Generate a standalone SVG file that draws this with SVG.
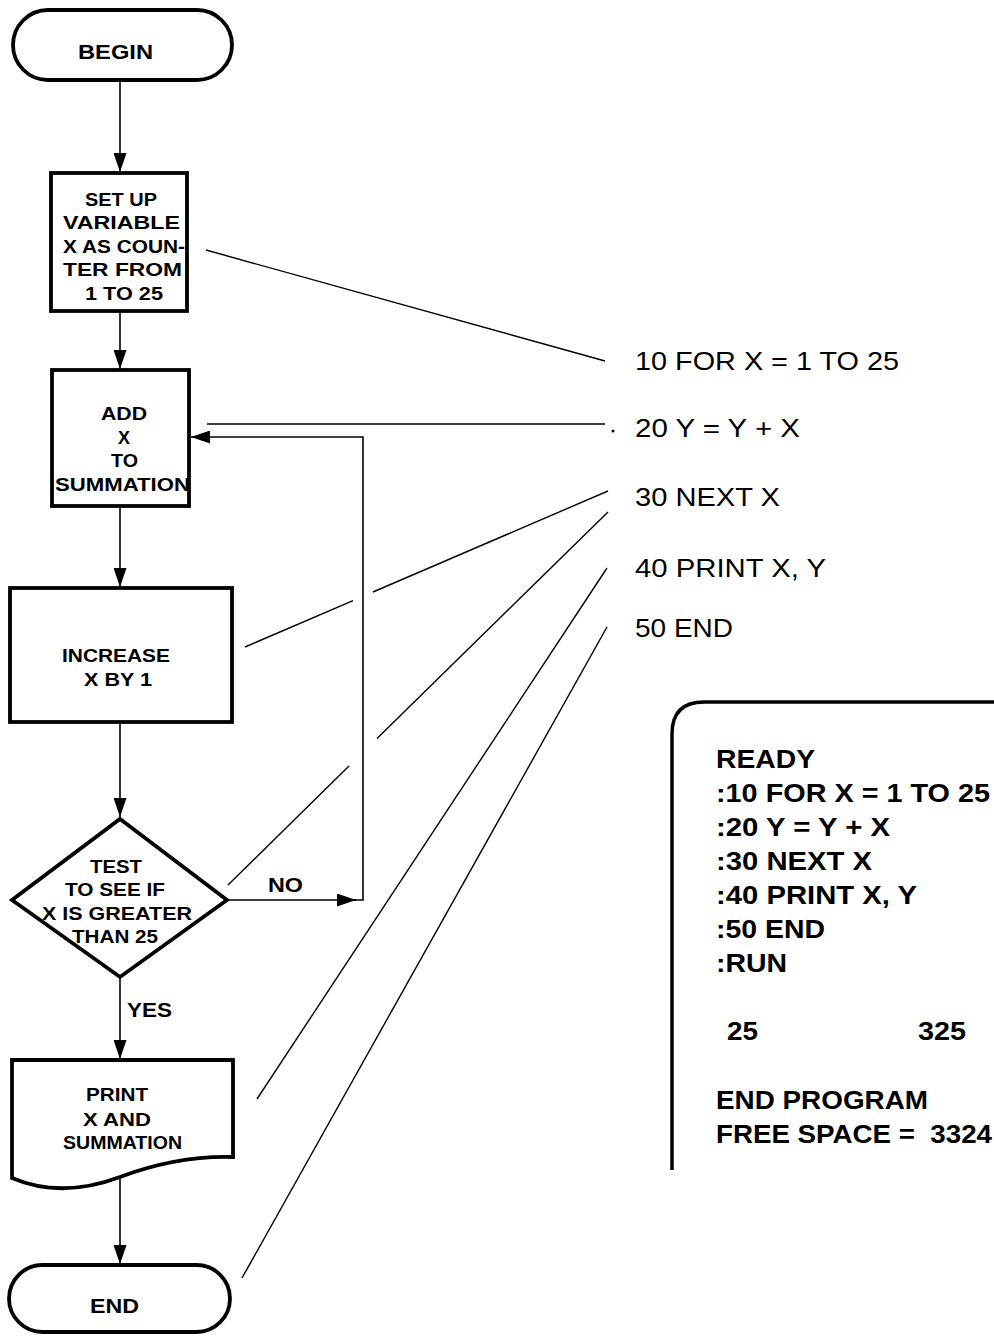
<svg xmlns="http://www.w3.org/2000/svg" width="994" height="1336" viewBox="0 0 994 1336">
  <style>
    .shape { fill: #fff; stroke: #000; stroke-width: 3.8; stroke-linejoin: miter; }
    .flow { fill: none; stroke: #000; stroke-width: 1.6; }
    .lead { fill: none; stroke: #000; stroke-width: 1.4; }
    .lbl { font-family: "Liberation Sans", Arial, sans-serif; font-weight: bold; font-size: 18px; fill: #000; text-anchor: middle; }
    .term { font-size: 21px; }
    .edge { font-family: "Liberation Sans", Arial, sans-serif; font-weight: bold; font-size: 20px; fill: #000; }
    .code { font-family: "Liberation Sans", Arial, sans-serif; font-size: 26px; fill: #000; }
    .scr { font-family: "Liberation Sans", Arial, sans-serif; font-weight: bold; font-size: 26px; fill: #000; }
  </style>
  <defs>
    <marker id="arrow" viewBox="0 0 19 13" refX="19" refY="6.5" markerWidth="19" markerHeight="13" markerUnits="userSpaceOnUse" orient="auto">
      <path d="M0,0 L19,6.5 L0,13 z" fill="#000"/>
    </marker>
  </defs>

  <!-- flow connectors -->
  <g id="connectors">
    <line class="flow" x1="120" y1="80" x2="120" y2="172" marker-end="url(#arrow)"/>
    <line class="flow" x1="120" y1="311" x2="120" y2="369" marker-end="url(#arrow)"/>
    <line class="flow" x1="120" y1="506" x2="120" y2="587" marker-end="url(#arrow)"/>
    <line class="flow" x1="120" y1="722" x2="120" y2="817" marker-end="url(#arrow)"/>
    <line class="flow" x1="120" y1="977" x2="120" y2="1059" marker-end="url(#arrow)"/>
    <line class="flow" x1="120" y1="1176" x2="120" y2="1264" marker-end="url(#arrow)"/>
    <!-- NO branch loops back to the summation step -->
    <line class="flow" x1="227" y1="900" x2="356" y2="900" marker-end="url(#arrow)"/>
    <path class="flow" d="M354,900 H363 V437 H191" marker-end="url(#arrow)"/>
    <text class="edge" x="268" y="892" textLength="35" lengthAdjust="spacingAndGlyphs">NO</text>
    <text class="edge" x="127" y="1017" textLength="45" lengthAdjust="spacingAndGlyphs">YES</text>
  </g>

  <!-- leader lines from steps to program lines -->
  <g id="leaders">
    <line class="lead" x1="206" y1="250" x2="605" y2="361"/>
    <line class="lead" x1="207" y1="424" x2="605" y2="424"/>
    <circle cx="613" cy="431" r="1.5" fill="#000"/>
    <line class="lead" x1="245" y1="647" x2="353" y2="600.6"/>
    <line class="lead" x1="373" y1="592" x2="608" y2="491"/>
    <line class="lead" x1="228" y1="885" x2="349" y2="766"/>
    <line class="lead" x1="377" y1="738.5" x2="608" y2="512"/>
    <line class="lead" x1="257" y1="1099" x2="607" y2="568"/>
    <line class="lead" x1="242" y1="1278" x2="607" y2="627"/>
  </g>

  <g id="begin">
    <rect class="shape" x="13" y="10" width="219" height="70" rx="35" ry="35"/>
    <text class="lbl term" x="115.5" y="59" textLength="75" lengthAdjust="spacingAndGlyphs">BEGIN</text>
  </g>

  <g id="setup">
    <rect class="shape" x="51" y="173" width="136" height="138"/>
    <text class="lbl" x="121" y="206" textLength="72" lengthAdjust="spacingAndGlyphs">SET UP</text>
    <text class="lbl" x="121.5" y="229" textLength="117" lengthAdjust="spacingAndGlyphs">VARIABLE</text>
    <text class="lbl" x="124" y="252.5" textLength="122" lengthAdjust="spacingAndGlyphs">X AS COUN-</text>
    <text class="lbl" x="122.5" y="275.5" textLength="119" lengthAdjust="spacingAndGlyphs">TER FROM</text>
    <text class="lbl" x="124" y="299.5" textLength="78" lengthAdjust="spacingAndGlyphs">1 TO 25</text>
  </g>

  <g id="add">
    <rect class="shape" x="52" y="370" width="137" height="136"/>
    <text class="lbl" x="124" y="419.5" textLength="46" lengthAdjust="spacingAndGlyphs">ADD</text>
    <text class="lbl" x="124" y="443.5" textLength="12" lengthAdjust="spacingAndGlyphs">X</text>
    <text class="lbl" x="124.5" y="466.5" textLength="27" lengthAdjust="spacingAndGlyphs">TO</text>
    <text class="lbl" x="122.5" y="490.5" textLength="135" lengthAdjust="spacingAndGlyphs">SUMMATION</text>
  </g>

  <g id="increase">
    <rect class="shape" x="10" y="588" width="222" height="134"/>
    <text class="lbl" x="116" y="662" textLength="108" lengthAdjust="spacingAndGlyphs">INCREASE</text>
    <text class="lbl" x="118" y="686" textLength="68" lengthAdjust="spacingAndGlyphs">X BY 1</text>
  </g>

  <g id="test">
    <polygon class="shape" points="120,819 227,900 120,977 12,900"/>
    <text class="lbl" x="116" y="873" textLength="52" lengthAdjust="spacingAndGlyphs">TEST</text>
    <text class="lbl" x="115" y="896" textLength="100" lengthAdjust="spacingAndGlyphs">TO SEE IF</text>
    <text class="lbl" x="117" y="920" textLength="150" lengthAdjust="spacingAndGlyphs">X IS GREATER</text>
    <text class="lbl" x="115" y="943" textLength="86" lengthAdjust="spacingAndGlyphs">THAN 25</text>
  </g>

  <g id="print">
    <path class="shape" d="M12,1060 H233 V1157 C195,1156 160,1162 120,1177 C80,1192 45,1192 12,1178 Z"/>
    <text class="lbl" x="117" y="1101" textLength="62" lengthAdjust="spacingAndGlyphs">PRINT</text>
    <text class="lbl" x="117" y="1126" textLength="68" lengthAdjust="spacingAndGlyphs">X AND</text>
    <text class="lbl" x="122.5" y="1149" textLength="119" lengthAdjust="spacingAndGlyphs">SUMMATION</text>
  </g>

  <g id="end">
    <rect class="shape" x="9" y="1265" width="221" height="67" rx="33.5" ry="33.5"/>
    <text class="lbl term" x="114.5" y="1313" textLength="49" lengthAdjust="spacingAndGlyphs">END</text>
  </g>

  <!-- BASIC listing -->
  <g id="program">
    <text class="code" x="635" y="370" textLength="264" lengthAdjust="spacingAndGlyphs">10 FOR X = 1 TO 25</text>
    <text class="code" x="635" y="437" textLength="165" lengthAdjust="spacingAndGlyphs">20 Y = Y + X</text>
    <text class="code" x="635" y="506" textLength="145" lengthAdjust="spacingAndGlyphs">30 NEXT X</text>
    <text class="code" x="635" y="577" textLength="191" lengthAdjust="spacingAndGlyphs">40 PRINT X, Y</text>
    <text class="code" x="635" y="637" textLength="98" lengthAdjust="spacingAndGlyphs">50 END</text>
  </g>

  <!-- terminal screen -->
  <g id="screen">
    <path d="M672,1170 V734 Q672,702 704,702 H996" fill="none" stroke="#000" stroke-width="3.5"/>
    <text class="scr" x="716" y="768" textLength="99" lengthAdjust="spacingAndGlyphs">READY</text>
    <text class="scr" x="716" y="802" textLength="274" lengthAdjust="spacingAndGlyphs">:10 FOR X = 1 TO 25</text>
    <text class="scr" x="716" y="836" textLength="174" lengthAdjust="spacingAndGlyphs">:20 Y = Y + X</text>
    <text class="scr" x="716" y="870" textLength="156" lengthAdjust="spacingAndGlyphs">:30 NEXT X</text>
    <text class="scr" x="716" y="904" textLength="201" lengthAdjust="spacingAndGlyphs">:40 PRINT X, Y</text>
    <text class="scr" x="716" y="938" textLength="109" lengthAdjust="spacingAndGlyphs">:50 END</text>
    <text class="scr" x="716" y="972" textLength="71" lengthAdjust="spacingAndGlyphs">:RUN</text>
    <text class="scr" x="727" y="1040" textLength="31" lengthAdjust="spacingAndGlyphs">25</text>
    <text class="scr" x="918" y="1040" textLength="48" lengthAdjust="spacingAndGlyphs">325</text>
    <text class="scr" x="716" y="1109" textLength="212" lengthAdjust="spacingAndGlyphs">END PROGRAM</text>
    <text class="scr" x="716" y="1143" textLength="276" lengthAdjust="spacingAndGlyphs" xml:space="preserve">FREE SPACE =  3324</text>
  </g>
</svg>
